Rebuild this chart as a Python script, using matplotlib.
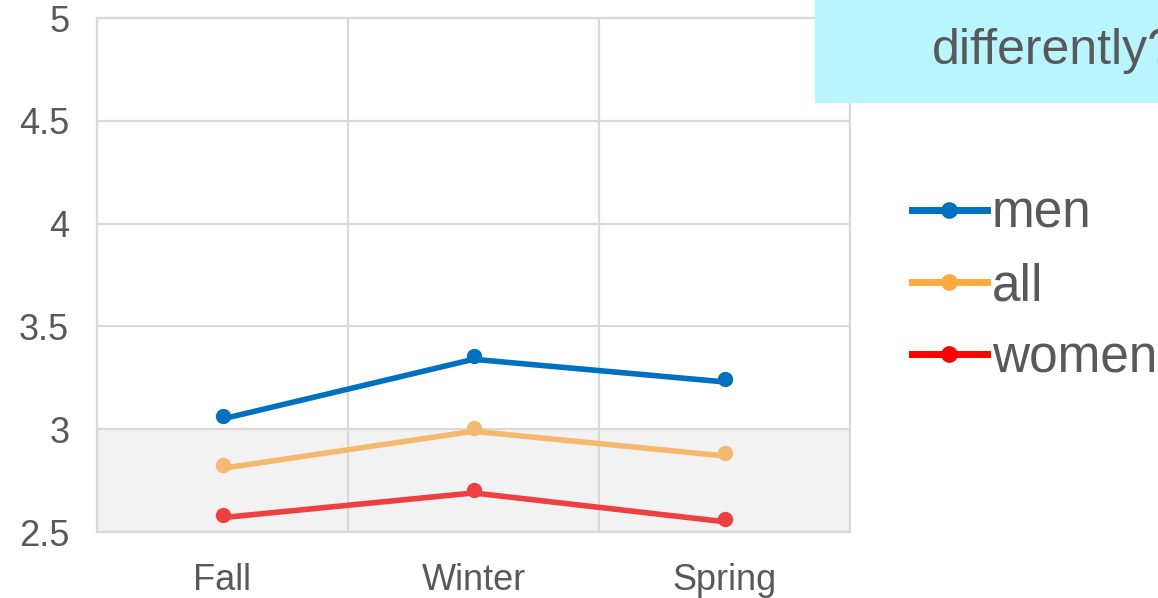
import matplotlib.pyplot as plt
import matplotlib.transforms as mtransforms
from matplotlib.lines import Line2D
import numpy as np

plt.rcParams['font.family'] = ['Liberation Sans', 'DejaVu Sans']

seasons = ['Fall', 'Winter', 'Spring']
men = [3.05, 3.34, 3.23]
all_students = [2.81, 2.99, 2.87]
women = [2.57, 2.69, 2.55]

series = [
    ('men', men, '#0070C0', '#0070C0'),
    ('all', all_students, '#F4B96E', '#FFAA40'),
    ('women', women, '#EE4040', '#FF0000'),
]

fig = plt.figure(figsize=(11.58, 5.98), dpi=100)
ax = fig.add_axes([97 / 1158, 66 / 598, 753 / 1158, 514 / 598])

x = np.arange(len(seasons))
# markers sit a few pixels above the line in the original
marker_shift = mtransforms.ScaledTranslation(0, 3 / 100, fig.dpi_scale_trans)
for name, vals, lcol, mcol in series:
    ax.plot(x, vals, color=lcol, lw=4.0, solid_capstyle='round', zorder=3)
    ax.plot(x, vals, 'o', color=lcol, ms=10, zorder=4,
            transform=ax.transData + marker_shift)

# gray band below 3
ax.axhspan(2.5, 3.0, color='#f2f2f2', lw=0, zorder=0.4)

ax.set_xlim(-0.5, 2.5)
ax.set_ylim(2.5, 5)
ax.set_xticks(x)
ax.set_xticklabels(seasons)
ax.set_yticks(np.arange(2.5, 5.01, 0.5))
ax.set_yticklabels(['2.5', '3', '3.5', '4', '4.5', '5'])
ax.set_xticks(np.arange(-0.5, 2.6, 1), minor=True)
ax.grid(True, which='minor', axis='x', color='#d9d9d9', lw=1.6)
ax.grid(True, which='major', axis='y', color='#d9d9d9', lw=1.6)
ax.tick_params(which='both', length=0, labelsize=26, labelcolor='#595959')
ax.tick_params(axis='y', pad=20)
ax.tick_params(axis='x', pad=22)
for s in ax.spines.values():
    s.set_color('#d9d9d9')
    s.set_linewidth(1.6)
ax.set_axisbelow(True)

# callout box at top right
box = plt.Rectangle((815 / 1158, 495 / 598), 1.0, 0.2, transform=fig.transFigure,
                    facecolor='#B9F5FF', edgecolor='none', zorder=0)
fig.patches.append(box)
fig.text(932 / 1158, 534 / 598, 'differently?', fontsize=36, color='#595959',
         ha='left', va='baseline')

handles = [Line2D([], [], color=mcol, lw=5, marker='o', ms=11)
           for _, _, _, mcol in series]
fig.legend(handles, [s[0] for s in series], loc='upper left',
           bbox_to_anchor=(912 / 1158, 408 / 598), frameon=False, fontsize=37,
           handlelength=1.45, handletextpad=0.1, labelspacing=0.45,
           borderpad=0, borderaxespad=0, labelcolor='#595959')

fig.savefig('out.png', dpi=100)
